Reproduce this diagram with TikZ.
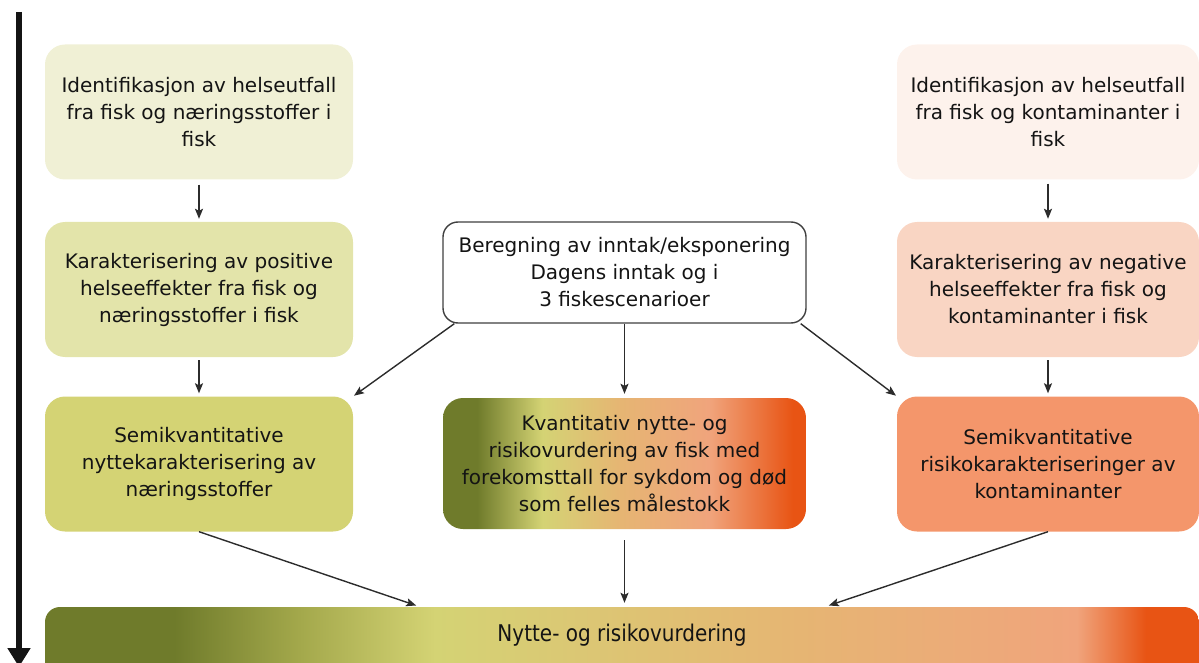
\documentclass[tikz,border=0pt]{standalone}
\usepackage{xcolor}
\usepackage{fontspec}
\setmainfont{DejaVu Sans}
\usepackage{tikz}
\usetikzlibrary{positioning,arrows.meta}
\definecolor{INK}{HTML}{141414}
\definecolor{EDGE}{HTML}{404040}
\definecolor{OLIVE}{HTML}{6F7B2B}
\definecolor{MOSS}{HTML}{A3A84B}
\definecolor{STRAW}{HTML}{D4D374}
\definecolor{TAN}{HTML}{E6B573}
\definecolor{PEACH}{HTML}{F0A47C}
\definecolor{FLAME}{HTML}{E85414}
\definecolor{POSA}{HTML}{F0F0D5}
\definecolor{POSB}{HTML}{E3E4AA}
\definecolor{POSC}{HTML}{D4D374}
\definecolor{NEGA}{HTML}{FDF2EC}
\definecolor{NEGB}{HTML}{F9D5C3}
\definecolor{NEGC}{HTML}{F4966B}

% stops sit between 25bp and 75bp (the part that covers the path)
\pgfdeclarehorizontalshading{kvantshade}{100bp}{color(0bp)=(OLIVE); color(25bp)=(OLIVE);
  color(29.7bp)=(OLIVE); color(38.7bp)=(STRAW); color(49.5bp)=(TAN);
  color(61.7bp)=(PEACH); color(73.2bp)=(FLAME); color(75bp)=(FLAME); color(100bp)=(FLAME)}
\pgfdeclarehorizontalshading{bandshade}{100bp}{color(0bp)=(OLIVE); color(25bp)=(OLIVE);
  color(30.6bp)=(OLIVE); color(36bp)=(MOSS); color(41.9bp)=(STRAW); color(57.7bp)=(TAN);
  color(69.7bp)=(PEACH); color(72.7bp)=(FLAME); color(75bp)=(FLAME); color(100bp)=(FLAME)}

\begin{document}
\begin{tikzpicture}[
    x=1pt, y=-1pt,
    font=\fontsize{20}{27}\selectfont,
    box/.style={rounded corners=20pt, minimum width=308pt, minimum height=135pt,
      inner sep=0pt, align=center, text=INK},
    boxr/.style={box, minimum width=302pt},
    calc/.style={box, minimum width=363pt, minimum height=101pt, fill=white,
      draw=EDGE, line width=1.4pt, rounded corners=15pt},
    kvant/.style={box, minimum width=363pt, minimum height=131pt, shade, shading=kvantshade},
    bandfill/.style={shading=bandshade, rounded corners=15pt},
    bandtext/.style={minimum width=1154pt, minimum height=56pt, inner sep=0pt, text=INK},
    link/.style={line width=1.4pt, draw=INK!90, -{Stealth[length=10pt,width=8pt,inset=2pt]},
      shorten >=3pt},
    timeline/.style={line width=6.5pt, draw=INK, -{Triangle[length=19pt,width=22pt]}},
  ]

  \def\xl{199}   % left column
  \def\xm{624.5} % middle column
  \def\xr{1048}  % right column

  \useasboundingbox (0,0) rectangle (1199,663);

  % --- time axis ---
  \coordinate (tstart) at (19,12);
  \coordinate (tend) at (19,667);
  \draw[timeline] (tstart) -- (tend);

  % --- benefit side ---
  \node[box, fill=POSA] (idpos) at (\xl,112)
    {Identifikasjon av helseutfall\\fra fisk og næringsstoffer i\\fisk};
  \node[box, fill=POSB] (karpos) at (\xl,289.5)
    {Karakterisering av positive\\helseeffekter fra fisk og\\næringsstoffer i fisk};
  \node[box, fill=POSC] (sempos) at (\xl,464)
    {Semikvantitative\\nyttekarakterisering av\\næringsstoffer};

  % --- risk side ---
  \node[boxr, fill=NEGA] (idneg) at (\xr,112)
    {Identifikasjon av helseutfall\\fra fisk og kontaminanter i\\fisk};
  \node[boxr, fill=NEGB] (karneg) at (\xr,289.5)
    {Karakterisering av negative\\helseeffekter fra fisk og\\kontaminanter i fisk};
  \node[boxr, fill=NEGC] (semneg) at (\xr,464)
    {Semikvantitative\\risikokarakteriseringer av\\kontaminanter};

  % --- middle ---
  \node[calc] (beregning) at (\xm,272.5)
    {Beregning av inntak/eksponering\\Dagens inntak og i\\3 fiskescenarioer};
  \node[kvant] (kvant) at (\xm,463.5)
    {Kvantitativ nytte- og\\risikovurdering av fisk med\\forekomsttall for sykdom og død\\som felles målestokk};

  % --- bottom band ---
  \shade[bandfill] (45,607) rectangle (1199,720);
  \node[bandtext] (total) at (622,635) {\scalebox{1}[1.15]{Nytte- og risikovurdering}};

  % arrows
  \draw[link, shorten <=5pt] (idpos) -- (karpos);
  \draw[link, shorten <=3pt] (karpos) -- (sempos);
  \draw[link, shorten <=4pt] (idneg) -- (karneg);
  \draw[link, shorten <=3pt] (karneg) -- (semneg);
  \draw[link, shorten >=4pt] (beregning) -- (kvant);
  \draw[link, shorten >=1pt] ([xshift=12pt]beregning.south west) -- (sempos.north east);
  \draw[link, shorten >=1pt] ([xshift=-6pt]beregning.south east) -- (semneg.north west);
  \draw[link, shorten >=4pt] (sempos.south) -- ([xshift=-202pt]total.north);
  \draw[link, shorten <=11pt, shorten >=4pt] (kvant.south) -- (kvant.south |- total.north);
  \draw[link, shorten >=4pt] (semneg.south) -- ([xshift=203pt]total.north);

\end{tikzpicture}
\end{document}
